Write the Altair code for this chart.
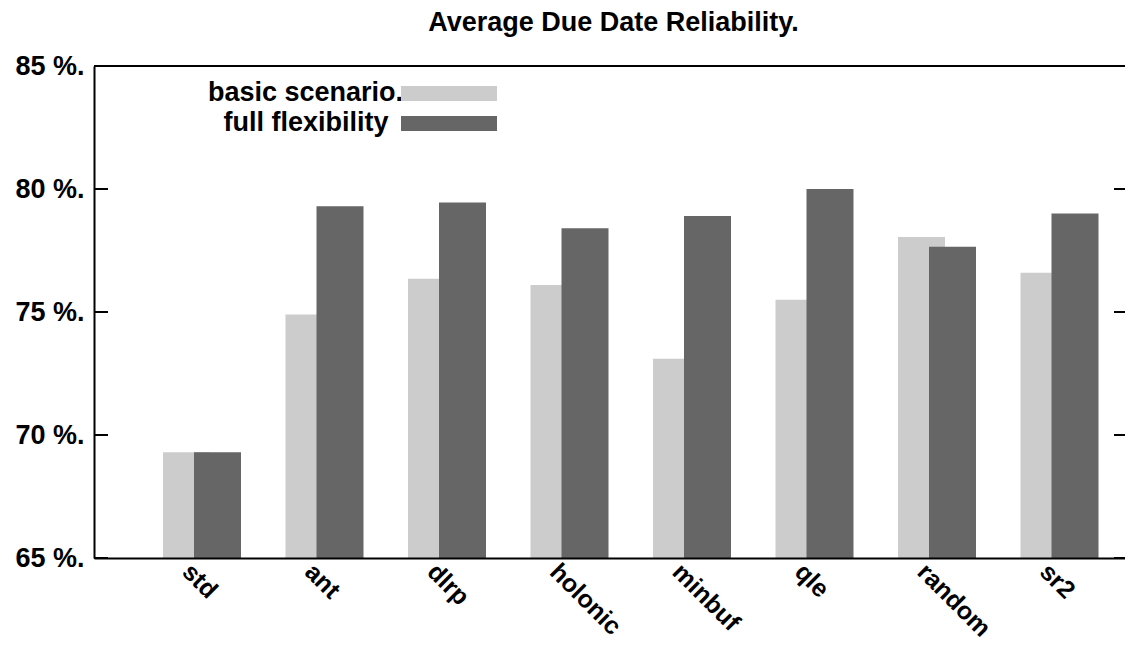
import altair as alt
import pandas as pd

# ---- data ----
categories = ["std", "ant", "dlrp", "holonic", "minbuf", "qle", "random", "sr2"]
basic = [69.3, 74.9, 76.35, 76.1, 73.1, 75.5, 78.05, 76.6]
full = [69.3, 79.3, 79.45, 78.4, 78.9, 80.0, 77.65, 79.0]
series_names = ["basic scenario", "full flexibility"]
legend_labels = ["basic scenario.", "full flexibility"]
y_ticks = [65, 70, 75, 80, 85]
title_text = ["Average Due Date Reliability."]

# ---- style ----
colors = ["#cccccc", "#666666"]
FONT = "Liberation Sans"
FS = 27
W, H = 1039, 492
CLIP = 8          # the frame runs past the right edge of the picture
BAR_W = 47
BAR_SHIFT = 15.5
STEP = 122.5
LEFT_GAP = 108    # px from the left axis to the first category centre

n = len(categories)
outer = (W - n * STEP) / 2 / STEP
align = (LEFT_GAP - STEP / 2) / (W - n * STEP)

df = pd.DataFrame({
    "category": categories * 2,
    "series": [series_names[0]] * n + [series_names[1]] * n,
    "value": basic + full,
})
ticks_df = pd.DataFrame({"v": y_ticks})
leg_df = pd.DataFrame({"series": series_names, "label": legend_labels})
title_df = pd.DataFrame({"t": title_text})

yscale = alt.Scale(domain=[y_ticks[0], y_ticks[-1]], zero=False, nice=False)
xscale = alt.Scale(domain=categories, paddingInner=0, paddingOuter=outer, align=align)

xaxis = alt.Axis(
    title=None, labelAngle=45, labelAlign="left", labelBaseline="alphabetic",
    labelOffset=-21, labelPadding=15, ticks=False, domain=True, domainWidth=2,
    domainColor="black", labelFontSize=25, labelFont=FONT, labelFontWeight="bold",
    labelColor="black", grid=False, zindex=1,
)
yaxis = alt.Axis(
    title=None, values=y_ticks, labelExpr="datum.value + ' %.'", ticks=False,
    domain=True, domainWidth=2, domainColor="black", labelFontSize=FS,
    labelFont=FONT, labelFontWeight="bold", labelColor="black", labelPadding=10,
    grid=False, zindex=1,
)


def bars(idx, shift):
    return (
        alt.Chart(df)
        .transform_filter(alt.datum.series == series_names[idx])
        .mark_bar(width=BAR_W, xOffset=shift, color=colors[idx])
        .encode(
            x=alt.X("category:N", scale=xscale, sort=categories, axis=xaxis),
            y=alt.Y("value:Q", scale=yscale, axis=yaxis),
            y2=alt.Y2Datum(y_ticks[0]),
        )
    )


light = bars(0, -BAR_SHIFT)
dark = bars(1, BAR_SHIFT)

left_ticks = alt.Chart(ticks_df).mark_rule(color="black", strokeWidth=2).encode(
    y=alt.Y("v:Q", scale=yscale, axis=yaxis), x=alt.value(0), x2=alt.value(14)
)
right_ticks = alt.Chart(ticks_df).mark_rule(color="black", strokeWidth=2).encode(
    y=alt.Y("v:Q", scale=yscale, axis=yaxis),
    x=alt.value(W - CLIP - 11), x2=alt.value(W - CLIP),
)
top_line = (
    alt.Chart(ticks_df)
    .transform_filter(alt.datum.v == y_ticks[-1])
    .mark_rule(color="black", strokeWidth=2)
    .encode(y=alt.Y("v:Q", scale=yscale, axis=yaxis), x=alt.value(0), x2=alt.value(W))
)

title = alt.Chart(title_df).mark_text(
    align="center", baseline="alphabetic", fontSize=FS, font=FONT,
    fontWeight="bold", color="black", x=519.5, y=-35,
).encode(text="t:N")

legend_layers = []
text_x = [309, 294.5]
row_y = [27.5, 57.5]
for i, s in enumerate(series_names):
    legend_layers.append(
        alt.Chart(leg_df)
        .transform_filter(alt.datum.series == s)
        .mark_text(align="right", baseline="alphabetic", fontSize=FS, font=FONT,
                   fontWeight="bold", color="black", x=text_x[i], y=row_y[i] + 7.5)
        .encode(text="label:N")
    )
    legend_layers.append(
        alt.Chart(leg_df)
        .transform_filter(alt.datum.series == s)
        .mark_rule(strokeWidth=15, color=colors[i])
        .encode(x=alt.value(307), x2=alt.value(403), y=alt.value(row_y[i]))
    )

chart = (
    alt.layer(light, dark, left_ticks, right_ticks, top_line, title, *legend_layers)
    .properties(
        width=W,
        height=H,
        autosize=alt.AutoSizeParams(type="none"),
        padding={"left": 86, "top": 58, "right": -CLIP, "bottom": 86},
    )
    .configure_view(stroke=None)
)

chart.save("out.html", embed_options={"renderer": "svg", "actions": False})
